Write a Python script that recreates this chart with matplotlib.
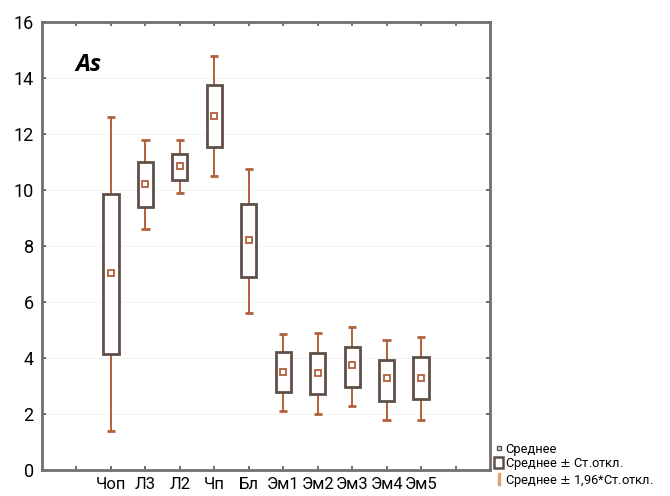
import numpy as np
import matplotlib
matplotlib.use("Agg")
import matplotlib.pyplot as plt
from matplotlib.lines import Line2D
from matplotlib.patches import Rectangle

plt.rcParams['font.family'] = ['Roboto', 'DejaVu Sans']

# ── data ─────────────────────────────────────────────
groups = ["Чоп", "Л3", "Л2", "Чп", "Бл", "Эм1", "Эм2", "Эм3", "Эм4", "Эм5"]
mean = [7.05, 10.2, 10.85, 12.65, 8.2, 3.5, 3.45, 3.75, 3.28, 3.3]
sd_lo = [4.15, 9.4, 10.35, 11.55, 6.9, 2.8, 2.72, 2.98, 2.47, 2.53]
sd_hi = [9.85, 11.0, 11.3, 13.75, 9.5, 4.2, 4.17, 4.4, 3.93, 4.05]
ci_lo = [1.4, 8.6, 9.9, 10.5, 5.6, 2.1, 2.0, 2.3, 1.8, 1.8]
ci_hi = [12.6, 11.8, 11.8, 14.8, 10.75, 4.85, 4.88, 5.12, 4.64, 4.76]

BOX_C = "#5e5048"
WHISK_C = "#b2603c"
AXIS_C = "#707070"

x = np.arange(2, 2 + len(groups))
mean = np.array(mean)
sd_lo, sd_hi = np.array(sd_lo), np.array(sd_hi)
ci_lo, ci_hi = np.array(ci_lo), np.array(ci_hi)

fig = plt.figure(figsize=(6.7, 4.96), dpi=100)
ax = fig.add_axes([0.0627, 0.0524, 0.6686, 0.9032])

# whiskers (outside the box only) and caps
ax.vlines(x, sd_hi, ci_hi, color=WHISK_C, lw=1.4, zorder=2)
ax.vlines(x, ci_lo, sd_lo, color=WHISK_C, lw=1.4, zorder=2)
ax.hlines(ci_hi, x - 0.12, x + 0.12, color=WHISK_C, lw=2, zorder=2)
ax.hlines(ci_lo, x - 0.12, x + 0.12, color=WHISK_C, lw=2, zorder=2)

# mean ± SD boxes
ax.bar(x, sd_hi - sd_lo, bottom=sd_lo, width=0.44, facecolor="white",
       edgecolor=BOX_C, linewidth=2, zorder=3)

# means
ax.plot(x, mean, ls="none", marker="s", ms=4.5, mfc="white",
        mec=WHISK_C, mew=1.3, zorder=4)

ax.set_xlim(0, 13)
ax.set_ylim(0, 16)
ax.set_xticks(np.arange(1, 13))
ax.set_xticklabels([""] + groups + [""])
ax.set_yticks(np.arange(0, 17, 2))
ax.yaxis.grid(True, color="#f3f3f3", lw=0.8)
ax.set_axisbelow(True)

for s in ax.spines.values():
    s.set_color(AXIS_C)
    s.set_linewidth(2)
ax.tick_params(direction="in", length=3, width=1.2, color="#555555",
               top=True, right=True, labelsize=13, pad=6)
ax.tick_params(axis="x", labelsize=12, pad=5)

ax.text(0.075, 0.93, "As", transform=ax.transAxes, fontsize=17,
        fontweight="bold", fontstyle="italic", va="top", ha="left",
        family=["Open Sans", "DejaVu Sans"])

# legend
handles = [
    Line2D([], [], ls="none", marker="s", ms=3.5, mfc="#dddddd",
           mec="#555555", mew=1),
    Rectangle((0, 0), 1, 1, facecolor="white", edgecolor=BOX_C, lw=1.8),
    Line2D([], [], ls="none", marker=r"$\mathrm{I}$", ms=9,
           color="#e0a070"),
]
labels = ["Среднее", "Среднее $\\pm$ Ст.откл.",
          "Среднее $\\pm$ 1,96*Ст.откл."]
fig.legend(handles, labels, loc="lower left", bbox_to_anchor=(0.724, -0.004),
           frameon=False, fontsize=9.3, handlelength=0.7, handleheight=0.9,
           handletextpad=0.15, labelspacing=0.05, borderpad=0.2)

fig.savefig("out.png", dpi=100)
